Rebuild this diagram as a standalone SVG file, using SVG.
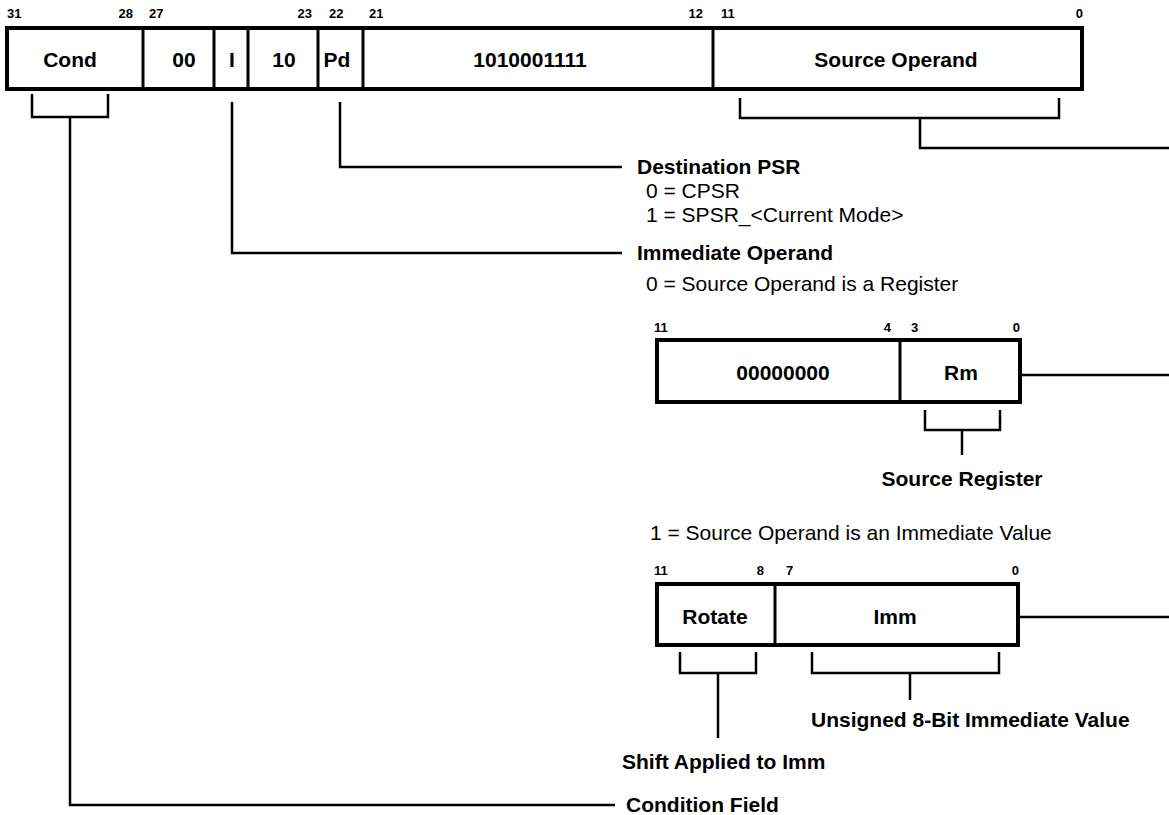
<svg xmlns="http://www.w3.org/2000/svg" width="1169" height="815" viewBox="0 0 1169 815">
<style>
text{font-family:"Liberation Sans",Arial,Helvetica,sans-serif;fill:#000}
.f{font-size:21px;font-weight:bold;text-anchor:middle}
.b{font-size:13px;font-weight:bold}
.e{text-anchor:end}
.m{text-anchor:middle}
.lbl{font-size:21px;font-weight:bold}
.d{font-size:21px}
.box{fill:#fff;stroke:#000;stroke-width:4}
.div{stroke:#000;stroke-width:3}
.con{fill:none;stroke:#000;stroke-width:2.5}
</style>
<rect width="1169" height="815" fill="#fff"/>
<g id="connectors" class="con">
<path d="M32,94 V117 H108 V94"/>
<path d="M70,117 V805 H615"/>
<path d="M340,102 V167 H622"/>
<path d="M232,102 V253 H622"/>
<path d="M740,98 V118 H1059 V98"/>
<path d="M920,118 V148 H1169"/>
<path d="M1022,375 H1169"/>
<path d="M925,410 V430 H1000 V410"/>
<path d="M962,430 V455"/>
<path d="M1020,617 H1169"/>
<path d="M680,652 V673 H756 V652"/>
<path d="M718,673 V738"/>
<path d="M812,652 V673 H999 V652"/>
<path d="M910,673 V700"/>
</g>
<g id="instruction">
<rect class="box" x="7" y="28" width="1075" height="61"/>
<line class="div" x1="143" y1="28" x2="143" y2="89"/>
<line class="div" x1="214" y1="28" x2="214" y2="89"/>
<line class="div" x1="248" y1="28" x2="248" y2="89"/>
<line class="div" x1="318" y1="28" x2="318" y2="89"/>
<line class="div" x1="363" y1="28" x2="363" y2="89"/>
<line class="div" x1="713" y1="28" x2="713" y2="89"/>
<text class="b" x="7" y="18">31</text>
<text class="b e" x="133" y="18">28</text>
<text class="b" x="149" y="18">27</text>
<text class="b e" x="312" y="18">23</text>
<text class="b" x="329" y="18">22</text>
<text class="b" x="369" y="18">21</text>
<text class="b e" x="703" y="18">12</text>
<text class="b" x="721" y="18">11</text>
<text class="b e" x="1083" y="18">0</text>
<g id="f-cond"><text class="f" x="70" y="67">Cond</text></g>
<g id="f-00"><text class="f" x="184" y="67">00</text></g>
<g id="f-i"><text class="f" x="232" y="67">I</text></g>
<g id="f-10"><text class="f" x="284" y="67">10</text></g>
<g id="f-pd"><text class="f" x="337" y="67">Pd</text></g>
<g id="f-opc"><text class="f" x="530" y="67">1010001111</text></g>
<g id="f-src"><text class="f" x="896" y="67">Source Operand</text></g>
</g>
<g id="label-dest">
<text class="lbl" x="637" y="174">Destination PSR</text>
<text class="d" x="646" y="198">0 = CPSR</text>
<text class="d" x="646" y="222">1 = SPSR_&lt;Current Mode&gt;</text>
</g>
<g id="label-imm">
<text class="lbl" x="637" y="260">Immediate Operand</text>
<text class="d" x="646" y="291">0 = Source Operand is a Register</text>
</g>
<g id="reg-operand">
<rect class="box" x="657" y="340" width="363" height="62"/>
<line class="div" x1="900" y1="340" x2="900" y2="402"/>
<text class="b" x="654" y="332">11</text>
<text class="b e" x="891" y="332">4</text>
<text class="b" x="911" y="332">3</text>
<text class="b e" x="1020" y="332">0</text>
<text class="f" x="783" y="380">00000000</text>
<text class="f" x="961" y="380">Rm</text>
</g>
<g id="label-srcreg"><text class="lbl m" x="962" y="486">Source Register</text></g>
<g id="label-immval"><text class="d" x="650" y="540">1 = Source Operand is an Immediate Value</text></g>
<g id="imm-operand">
<rect class="box" x="657" y="584" width="361" height="61"/>
<line class="div" x1="775" y1="584" x2="775" y2="645"/>
<text class="b" x="654" y="575">11</text>
<text class="b e" x="764" y="575">8</text>
<text class="b" x="786" y="575">7</text>
<text class="b e" x="1019" y="575">0</text>
<text class="f" x="715" y="624">Rotate</text>
<text class="f" x="895" y="624">Imm</text>
</g>
<g id="label-unsigned"><text class="lbl" x="811" y="727">Unsigned 8-Bit Immediate Value</text></g>
<g id="label-shift"><text class="lbl" x="622" y="769">Shift Applied to Imm</text></g>
<g id="label-cond"><text class="lbl" x="626" y="812">Condition Field</text></g>
</svg>
